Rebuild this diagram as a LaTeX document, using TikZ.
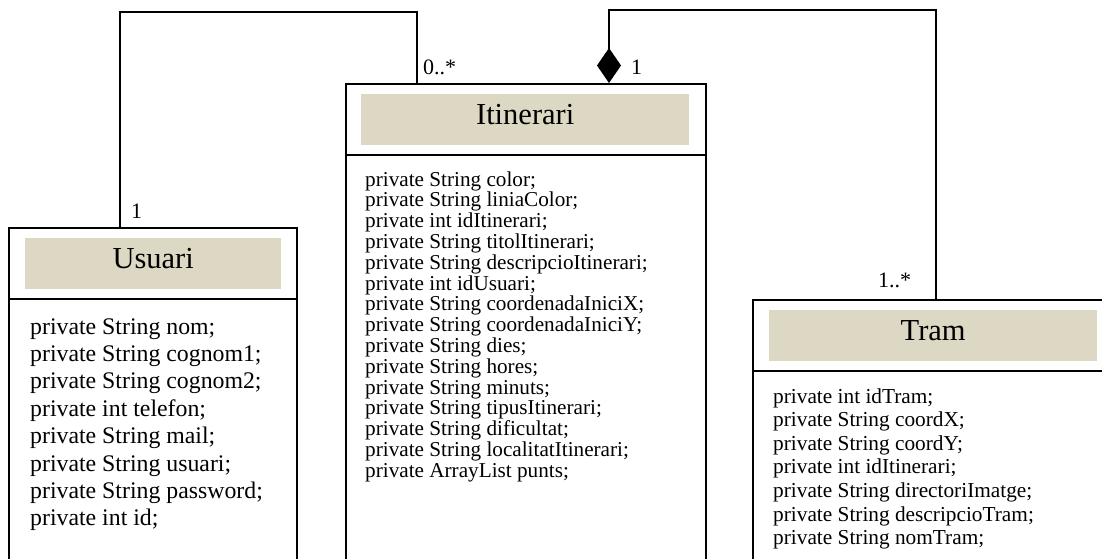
\documentclass[tikz,border=0pt]{standalone}
\usepackage{fontspec}
\setmainfont{Liberation Serif}
\usetikzlibrary{arrows.meta}
\definecolor{headfill}{RGB}{221,216,196}
\tikzset{
  classbox/.style={draw=black, line width=1.6pt, fill=white, inner sep=0pt, anchor=north west},
  headbox/.style={fill=headfill, inner sep=0pt, anchor=north west},
  title/.style={font=\fontsize{30.5}{34}\selectfont, inner sep=0pt, anchor=base},
  attrU/.style={font=\fontsize{23.8}{27}\selectfont, inner sep=0pt, anchor=base west},
  attrI/.style={font=\fontsize{21.2}{24}\selectfont, inner sep=0pt, anchor=base west},
  attrT/.style={font=\fontsize{21.3}{24}\selectfont, inner sep=0pt, anchor=base west},
  mult/.style={font=\fontsize{22}{24}\selectfont, inner sep=0pt, anchor=base west},
  divider/.style={line width=1.6pt},
  assoc/.style={line width=1.6pt},
  comp/.style={line width=1.6pt, {Diamond[length=35pt,width=24pt,fill=black]}-}
}
\begin{document}
\begin{tikzpicture}[x=1pt, y=-1pt]
\useasboundingbox (0,0) rectangle (1102,558);
\clip (0,0) rectangle (1102,558);
\fill[white] (0,0) rectangle (1102,558);

% class boxes (they run past the lower edge)
\node[classbox, minimum width=288pt, minimum height=360pt] (usuari) at (8,227) {};
\node[classbox, minimum width=360pt, minimum height=500pt] (itin) at (345,83) {};
\node[classbox, minimum width=380pt, minimum height=300pt] (tram) at (752,299) {};

% compartment dividers
\draw[divider] ([yshift=-72pt]usuari.north west) -- ([yshift=-72pt]usuari.north east);
\draw[divider] ([yshift=-72pt]itin.north west) -- ([yshift=-72pt]itin.north east);
\draw[divider] ([yshift=-72pt]tram.north west) -- ([yshift=-72pt]tram.north east);

% name compartments
\node[headbox, minimum width=256pt, minimum height=51pt] (uhead) at (25,238) {};
\node[title] (uname) at ([yshift=-4.5pt]uhead.center) {Usuari};
\node[headbox, minimum width=328pt, minimum height=51pt] (ihead) at (361,94) {};
\node[title] (iname) at ([yshift=-4.5pt]ihead.center) {Itinerari};
\node[headbox, minimum width=328pt, minimum height=51pt] (thead) at (769,310) {};
\node[title] (tname) at ([yshift=-4.5pt]thead.center) {Tram};

% attributes
\foreach \t [count=\i] in {{private String nom;},{private String cognom1;},{private String cognom2;},
  {private int telefon;},{private String mail;},{private String usuari;},{private String password;},
  {private int id;}}
  \node[attrU] (ua\i) at (30,{334+27.4*(\i-1)}) {\t};

\foreach \t [count=\i] in {{private String color;},{private String liniaColor;},{private int idItinerari;},
  {private String titolItinerari;},{private String descripcioItinerari;},{private int idUsuari;},
  {private String coordenadaIniciX;},{private String coordenadaIniciY;},{private String dies;},
  {private String hores;},{private String minuts;},{private String tipusItinerari;},
  {private String dificultat;},{private String localitatItinerari;},{private ArrayList punts;}}
  \node[attrI] (ia\i) at (365,{186+20.8*(\i-1)}) {\t};

\foreach \t [count=\i] in {{private int idTram;},{private String coordX;},{private String coordY;},
  {private int idItinerari;},{private String directoriImatge;},{private String descripcioTram;},
  {private String nomTram;}}
  \node[attrT] (ta\i) at (773,{403+23.6*(\i-1)}) {\t};

% associations
\coordinate (topA) at (260,12);
\coordinate (topB) at (760,10);
\draw[assoc] ([xshift=112pt]usuari.north west) |- (topA) -| ([xshift=72pt]itin.north west);
\draw[comp] ([xshift=264pt]itin.north west) |- (topB) -| ([xshift=184pt]tram.north west);

% multiplicities
\node[mult] (m1) at (131,218) {1};
\node[mult] (m2) at (423,74) {0..*};
\node[mult] (m3) at (631,74) {1};
\node[mult] (m4) at (878,287) {1..*};
\end{tikzpicture}
\end{document}
